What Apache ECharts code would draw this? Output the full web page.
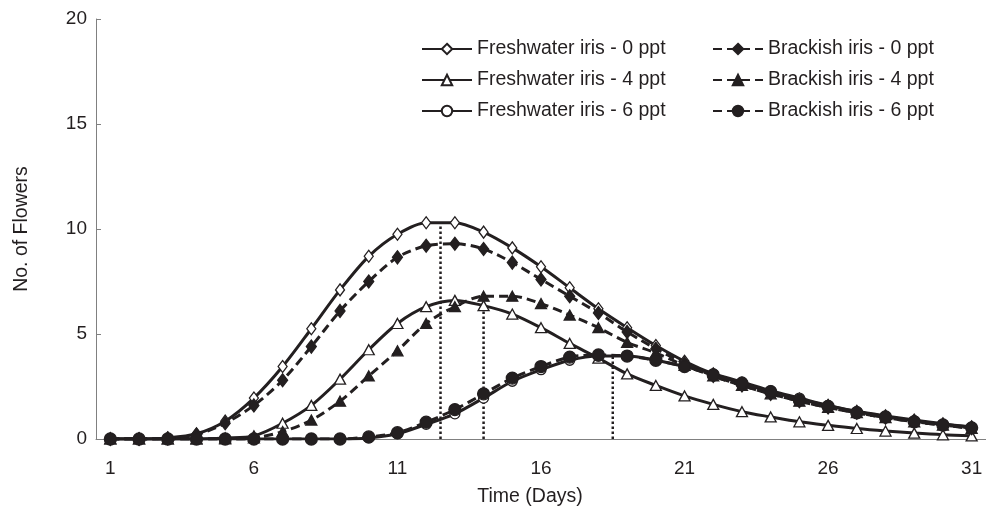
<!DOCTYPE html>
<html>
<head>
<meta charset="utf-8">
<script src="https://cdn.jsdelivr.net/npm/echarts@6/dist/echarts.min.js"></script>
<style>html,body{margin:0;padding:0;background:#fff}#c{width:986px;height:512px}</style>
</head>
<body>
<div id="c"></div>
<script>
var days = ['1','2','3','4','5','6','7','8','9','10','11','12','13','14','15','16','17','18','19','20','21','22','23','24','25','26','27','28','29','30','31'];
var yTicks = [0, 5, 10, 15, 20];
var fw0 = [0,0,0.05,0.25,0.85,1.95,3.45,5.25,7.1,8.7,9.75,10.3,10.3,9.85,9.1,8.2,7.2,6.2,5.3,4.45,3.7,3.1,2.65,2.25,1.9,1.6,1.32,1.1,0.9,0.72,0.58];
var br0 = [0,0,0.03,0.2,0.75,1.6,2.8,4.4,6.1,7.5,8.65,9.2,9.3,9.05,8.4,7.6,6.8,6.0,5.1,4.3,3.6,3.0,2.55,2.15,1.8,1.5,1.25,1.02,0.83,0.67,0.52];
var fw4 = [0,0,0,0,0.05,0.15,0.75,1.6,2.85,4.25,5.5,6.3,6.6,6.35,5.95,5.3,4.55,3.85,3.1,2.55,2.05,1.65,1.3,1.05,0.82,0.65,0.5,0.38,0.28,0.2,0.15];
var br4 = [0,0,0,0,0,0.05,0.35,0.9,1.8,3.0,4.2,5.5,6.3,6.8,6.8,6.45,5.9,5.3,4.6,4.1,3.5,3.0,2.55,2.15,1.8,1.5,1.25,1.02,0.82,0.66,0.5];
var fw6 = [0,0,0,0,0,0,0,0,0,0.05,0.25,0.7,1.2,1.95,2.75,3.3,3.75,3.95,3.95,3.75,3.45,3.1,2.72,2.3,1.95,1.6,1.3,1.08,0.87,0.7,0.56];
var br6 = [0,0,0,0,0,0,0,0,0,0.1,0.3,0.8,1.4,2.15,2.9,3.45,3.9,4.0,3.95,3.75,3.45,3.05,2.65,2.25,1.85,1.55,1.25,1.05,0.82,0.67,0.53];
var peakDays = [12.5, 14, 18.5];
var peakValues = [10.3, 6.8, 4.0];

var names = ['Freshwater iris - 0 ppt','Freshwater iris - 4 ppt','Freshwater iris - 6 ppt','Brackish iris - 0 ppt','Brackish iris - 4 ppt','Brackish iris - 6 ppt'];
var INK = '#231f20';
var FONT = 'Liberation Sans';

function mk(name, data, symbol, size, filled, dashed) {
  return {
    name: name, type: 'line', data: data, smooth: 0.3,
    symbol: symbol, symbolSize: size, showSymbol: true,
    lineStyle: {color: INK, width: 3, type: dashed ? [9, 5] : 'solid'},
    itemStyle: {color: filled ? INK : '#ffffff', borderColor: INK, borderWidth: 1.3},
    emphasis: {disabled: true}, z: 3
  };
}
var series = [
  mk(names[0], fw0, 'diamond', [9, 12], false, false),
  mk(names[1], fw4, 'triangle', [11, 10], false, false),
  mk(names[2], fw6, 'circle', 10, false, false),
  mk(names[3], br0, 'diamond', [10, 13], true, true),
  mk(names[4], br4, 'triangle', [11, 10], true, true),
  mk(names[5], br6, 'circle', 12, true, true)
];
peakDays.forEach(function (d, i) {
  series.push({
    type: 'line', xAxisIndex: 1, data: [[d, 0], [d, peakValues[i]]],
    symbol: 'none', lineStyle: {color: INK, width: 2.5, type: [2.5, 2.5]}, z: 2,
    emphasis: {disabled: true}, silent: true
  });
});

var legendCommon = {
  orient: 'vertical', itemWidth: 50, itemHeight: 13, itemGap: 11, padding: 0,
  textStyle: {fontSize: 19.5, color: INK, fontFamily: FONT, padding: [0, 0, 0, 0]}, selectedMode: false
};
var chart = echarts.init(document.getElementById('c'));
chart.setOption({
  animation: false,
  textStyle: {fontFamily: FONT},
  grid: {left: 96, right: 0, top: 19, bottom: 71},
  legend: [
    Object.assign({left: 421, top: 39, data: names.slice(0, 3)}, legendCommon),
    Object.assign({left: 712, top: 39, data: names.slice(3)}, legendCommon)
  ],
  xAxis: [{
    type: 'category', data: days, boundaryGap: true,
    name: 'Time (Days)', nameLocation: 'middle', nameGap: 48,
    nameTextStyle: {fontSize: 19.5, color: INK, fontFamily: FONT, padding: [0, 22, 0, 0]},
    axisLine: {lineStyle: {color: '#808080', width: 1}},
    axisTick: {inside: true, interval: 4, length: 5, lineStyle: {color: '#808080'}},
    axisLabel: {interval: 4, fontSize: 19, color: INK, margin: 20, fontFamily: FONT},
    splitLine: {show: false}
  }, {
    type: 'value', min: 0.5, max: 31.5, show: false
  }],
  yAxis: {
    type: 'value', min: yTicks[0], max: yTicks[yTicks.length - 1], interval: yTicks[1] - yTicks[0],
    name: 'No. of Flowers', nameLocation: 'middle', nameGap: 64, nameRotate: 90,
    nameTextStyle: {fontSize: 19.5, color: INK, fontFamily: FONT},
    axisLine: {show: true, lineStyle: {color: '#808080', width: 1}},
    axisTick: {show: true, inside: true, length: 5, lineStyle: {color: '#808080'}},
    axisLabel: {fontSize: 19, color: INK, margin: 9, fontFamily: FONT},
    splitLine: {show: false}
  },
  series: series
});
</script>
</body>
</html>
